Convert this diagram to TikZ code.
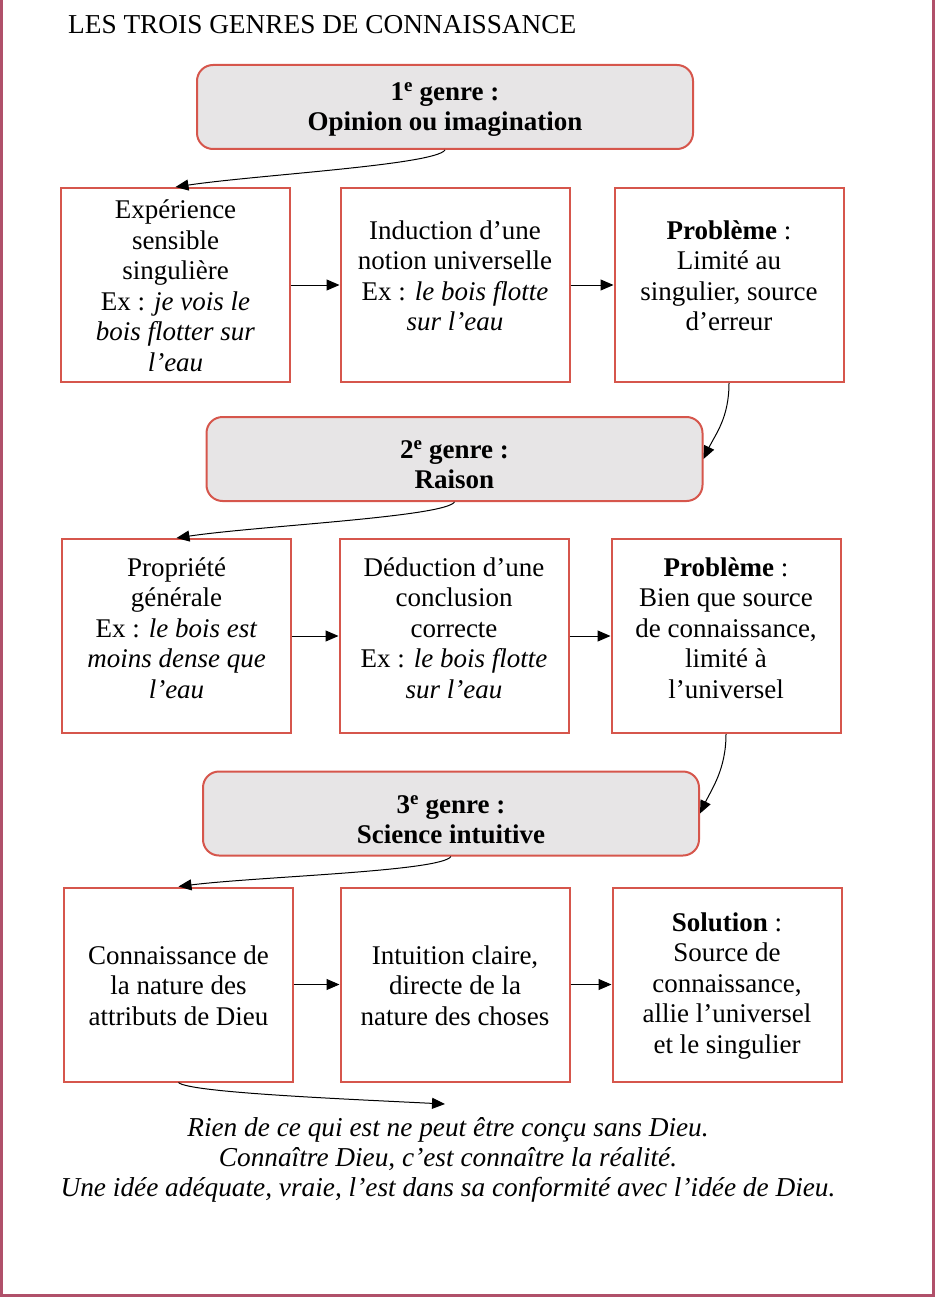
\documentclass[tikz,border=0pt]{standalone}
\usepackage{fontspec}
\setmainfont{Liberation Serif}
\usetikzlibrary{arrows.meta}
\definecolor{boxred}{RGB}{214,86,76}
\definecolor{hdrfill}{RGB}{231,229,230}
\definecolor{pageframe}{RGB}{176,80,106}
\begin{document}
\begin{tikzpicture}[x=1pt,y=-1pt,
  hdr/.style={draw=boxred, line width=2pt, fill=hdrfill, rounded corners=16pt, minimum width=496pt, minimum height=84pt, inner sep=0pt},
  cell/.style={draw=boxred, line width=2pt, minimum width=229pt, minimum height=194pt, inner sep=0pt},
  txt/.style={align=center, font=\fontsize{27}{30.5}\selectfont, inner sep=0pt},
  htxt/.style={align=center, font=\fontsize{27}{30}\selectfont\bfseries, inner sep=0pt},
  link/.style={line width=1pt, -{Triangle[length=13pt,width=11pt]}},
  ]
\useasboundingbox (0,0) rectangle (936,1297);
% page frame
\draw[pageframe, line width=3pt] (1.5,0) -- (1.5,1295.5) -- (933.5,1295.5) -- (933.5,0);
% title
\node[anchor=west, inner sep=0pt, font=\fontsize{27.3}{30}\selectfont] (title) at (68,25) {LES TROIS GENRES DE CONNAISSANCE};
% headers
\node[hdr] (h1) at (445,107) {};
\node[htxt] (th1) at (445,110) {1\textsuperscript{e} genre :\\Opinion ou imagination};
\node[hdr] (h2) at (454.5,459) {};
\node[htxt] (th2) at (454.5,465) {2\textsuperscript{e} genre :\\Raison};
\node[hdr] (h3) at (451,813.5) {};
\node[htxt] (th3) at (451,820) {3\textsuperscript{e} genre :\\Science intuitive};
% row 1
\node[cell] (A) at (175.5,285) {};
\node[cell] (B) at (455,285) {};
\node[cell] (C) at (729,285) {};
\node[txt] (tA) at (175.5,286) {Expérience\\sensible\\singulière\\Ex : \textit{je vois le}\\\textit{bois flotter sur}\\\textit{l’eau}};
\node[txt] (tB) at (455,276) {Induction d’une\\notion universelle\\Ex : \textit{le bois flotte}\\\textit{sur l’eau}};
\node[txt] (tC) at (729,276) {\textbf{Problème} :\\Limité au\\singulier, source\\d’erreur};
% row 2
\node[cell] (D) at (176.5,636) {};
\node[cell] (E) at (454,636) {};
\node[cell] (F) at (726,636) {};
\node[txt] (tD) at (176.5,628) {Propriété\\générale\\Ex : \textit{le bois est}\\\textit{moins dense que}\\\textit{l’eau}};
\node[txt] (tE) at (454,628) {Déduction d’une\\conclusion\\correcte\\Ex : \textit{le bois flotte}\\\textit{sur l’eau}};
\node[txt] (tF) at (726,628) {\textbf{Problème} :\\Bien que source\\de connaissance,\\limité à\\l’universel};
% row 3
\node[cell] (G) at (178.5,984.5) {};
\node[cell] (H) at (455,984.5) {};
\node[cell] (I) at (727,984.5) {};
\node[txt] (tG) at (178.5,985.5) {Connaissance de\\la nature des\\attributs de Dieu};
\node[txt] (tH) at (455,985.5) {Intuition claire,\\directe de la\\nature des choses};
\node[txt] (tI) at (727,986) {\textbf{Solution} :\\Source de\\connaissance,\\allie l’universel\\et le singulier};
% bottom text
\node[txt, font=\fontsize{27.3}{30}\selectfont\itshape] (bottom) at (448,1160) {Rien de ce qui est ne peut être conçu sans Dieu.\\Connaître Dieu, c’est connaître la réalité.\\Une idée adéquate, vraie, l’est dans sa conformité avec l’idée de Dieu.};
\coordinate (endG) at (445,1104);
% connectors
\draw[link] (h1.south) .. controls +(-10,15) and +(80,-12) .. (A.north);
\draw[link] (A.east) -- (B.west);
\draw[link] (B.east) -- (C.west);
\draw[link] (C.south) .. controls +(0,35) and +(12,-25) .. (h2.east);
\draw[link] (h2.south) .. controls +(-10,15) and +(80,-12) .. (D.north);
\draw[link] (D.east) -- (E.west);
\draw[link] (E.east) -- (F.west);
\draw[link] (F.south) .. controls +(0,35) and +(12,-25) .. (h3.east);
\draw[link] (h3.south) .. controls +(-10,15) and +(80,-10) .. (G.north);
\draw[link] (G.east) -- (H.west);
\draw[link] (H.east) -- (I.west);
\draw[link] (G.south) .. controls +(10,10) and +(-100,-5) .. (endG);
\end{tikzpicture}
\end{document}
